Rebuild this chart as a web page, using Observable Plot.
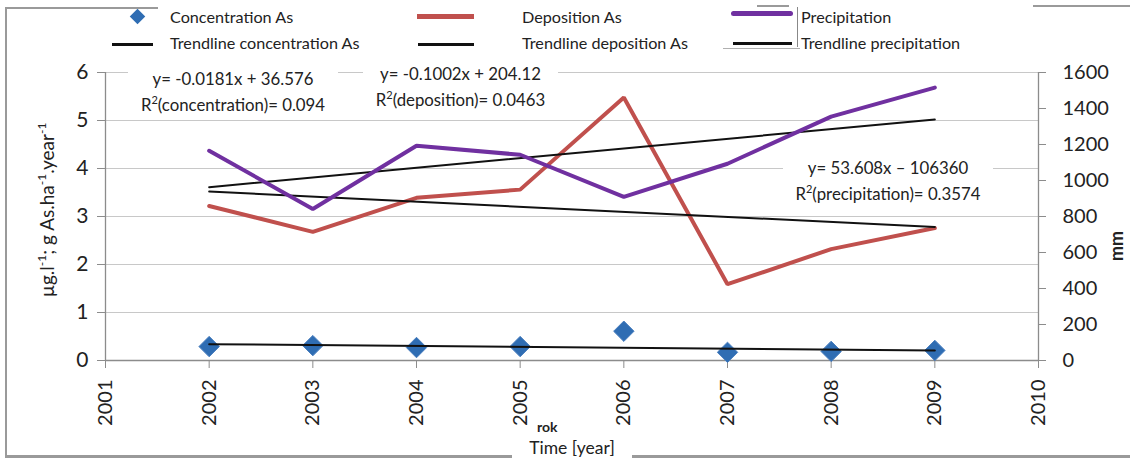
<!DOCTYPE html>
<html><head><meta charset="utf-8">
<script src="https://cdn.jsdelivr.net/npm/d3@7"></script>
<script src="https://cdn.jsdelivr.net/npm/@observablehq/plot@0.6"></script>
<style>
body{margin:0;background:#fff;font-family:Lato,"Open Sans",sans-serif;color:#222;}
#wrap{position:relative;width:1130px;height:461px;overflow:hidden;background:#fff;}
#wrap svg{position:absolute;left:0;top:0;}
.ov{position:absolute;white-space:nowrap;}
.leg{font-size:16.2px;color:#222;}
.eq{font-size:16.8px;background:#fff;text-align:center;line-height:21px;color:#222;}
.ln{position:absolute;}
</style></head><body><div id="wrap"></div>
<script>
// ---- data ----
const years = [2002, 2003, 2004, 2005, 2006, 2007, 2008, 2009];
const concentration = [0.29, 0.31, 0.27, 0.29, 0.61, 0.17, 0.19, 0.21];
const deposition = [3.22, 2.68, 3.39, 3.56, 5.48, 1.59, 2.32, 2.76];
const precipitation = [1165, 842, 1193, 1143, 909, 1093, 1355, 1516];
const trendYears = [2002, 2009];
const trendConcentration = [0.34, 0.21];
const trendDeposition = [3.52, 2.78];
const trendPrecipitation = [963, 1339];
const xTicks = [2001, 2002, 2003, 2004, 2005, 2006, 2007, 2008, 2009, 2010];
const leftTicks = [0, 1, 2, 3, 4, 5, 6];
const rightTicks = [0, 200, 400, 600, 800, 1000, 1200, 1400, 1600];

const k = 6 / 1600; // precipitation (mm) -> left axis units
const conc = years.map((x, i) => ({x, y: concentration[i]}));
const dep = years.map((x, i) => ({x, y: deposition[i]}));
const prec = years.map((x, i) => ({x, y: precipitation[i] * k}));
const tConc = trendYears.map((x, i) => ({x, y: trendConcentration[i]}));
const tDep = trendYears.map((x, i) => ({x, y: trendDeposition[i]}));
const tPrec = trendYears.map((x, i) => ({x, y: trendPrecipitation[i] * k}));

const axisGray = "#8c8c8c";
const chart = Plot.plot({
  width: 1130, height: 461,
  marginLeft: 105, marginRight: 92, marginTop: 72, marginBottom: 101,
  style: {fontFamily: "Lato, 'Open Sans', sans-serif", fontSize: "20px", color: "#222", background: "transparent"},
  x: {domain: [2001, 2010]},
  y: {domain: [0, 6]},
  marks: [
    Plot.gridY(leftTicks, {stroke: "#c8c8c8", strokeOpacity: 1, strokeWidth: 1.2}),
    Plot.ruleX([2001, 2010], {stroke: axisGray, strokeWidth: 1.3}),
    Plot.ruleY([0], {stroke: axisGray, strokeWidth: 1.3}),
    Plot.axisY(leftTicks, {anchor: "left", tickSize: 8, tickPadding: 9, stroke: axisGray, label: null, fontSize: 21}),
    Plot.axisY(rightTicks.map(v => v * k), {anchor: "right", tickSize: 7, tickPadding: 17, stroke: axisGray, label: null,
      tickFormat: d => String(Math.round(d / k)), fontSize: 20}),
    Plot.axisX(xTicks, {anchor: "bottom", tickSize: 8, tickPadding: 11, tickRotate: -90, stroke: axisGray,
      tickFormat: d => String(d), label: null, fontSize: 20}),
    Plot.line(dep, {x: "x", y: "y", stroke: "#C0504D", strokeWidth: 4, strokeLinejoin: "miter"}),
    Plot.line(tDep, {x: "x", y: "y", stroke: "#111", strokeWidth: 2}),
    Plot.line(tPrec, {x: "x", y: "y", stroke: "#111", strokeWidth: 2}),
    Plot.line(prec, {x: "x", y: "y", stroke: "#7030A0", strokeWidth: 4, strokeLinejoin: "miter"}),
    Plot.dot(conc, {x: "x", y: "y", symbol: "diamond2", r: 9.2, fill: "#2F6DB3", stroke: "#4A7FBF", strokeWidth: 1}),
    Plot.line(tConc, {x: "x", y: "y", stroke: "#111", strokeWidth: 2})
  ]
});
const wrap = document.getElementById("wrap");
wrap.appendChild(chart);

function ov(html, css, cls = "ov") {
  const d = document.createElement("div");
  d.className = cls;
  d.innerHTML = html;
  Object.assign(d.style, css);
  wrap.appendChild(d);
  return d;
}
function line(x, y, w, h, color) {
  ov("", {left: x + "px", top: y + "px", width: w + "px", height: h + "px", background: color}, "ln");
}

// legend
ov("", {left: "132px", top: "11px", width: "11px", height: "11px", background: "#2F6DB3", transform: "rotate(45deg)"});
ov("Concentration As", {left: "170px", top: "7px"}, "ov leg");
line(112, 43, 41, 2.5, "#111");
ov("Trendline concentration As", {left: "170px", top: "33px"}, "ov leg");
line(417, 14, 57, 5, "#C0504D");
ov("Deposition As", {left: "522px", top: "7px"}, "ov leg");
line(418, 43, 56, 2.5, "#111");
ov("Trendline deposition As", {left: "522px", top: "33px"}, "ov leg");
ov("", {left: "731px", top: "11px", width: "62px", height: "5px", background: "#7030A0", borderRadius: "3px"}, "ln");
ov("Precipitation", {left: "801px", top: "7px"}, "ov leg");
line(733, 42, 59, 2.5, "#111");
ov("Trendline precipitation", {left: "801px", top: "33px"}, "ov leg");

// frame artifacts
line(5, 7, 153, 1.5, "#9a9a9a");
line(5, 7, 2, 450, "#9a9a9a");
line(5, 455, 507, 2.5, "#9a9a9a");
line(632, 455, 498, 2.5, "#9a9a9a");
line(1033, 5, 97, 1.5, "#9a9a9a");
line(757, 5, 32, 1.5, "#9a9a9a");
line(723, 48, 77, 1, "#b0b0b0");
line(797, 7, 1, 40, "#888");

// equations
ov("y= -0.0181x + 36.576<br>R<sup style='font-size:11px'>2</sup>(concentration)= 0.094",
  {left: "128px", top: "68px", width: "210px"}, "ov eq");
ov("y= -0.1002x + 204.12<br>R<sup style='font-size:11px'>2</sup>(deposition)= 0.0463",
  {left: "363px", top: "63px", width: "195px"}, "ov eq");
ov("y= 53.608x – 106360<br>R<sup style='font-size:11px'>2</sup>(precipitation)= 0.3574",
  {left: "783px", top: "157px", width: "210px"}, "ov eq");

// axis titles
ov("µg.l<sup style='font-size:12px'>-1</sup>; g As.ha<sup style='font-size:12px'>-1</sup>.year<sup style='font-size:12px'>-1</sup>",
  {left: "46px", top: "210px", fontSize: "19px", transform: "translate(-50%,-50%) rotate(-90deg)"});
ov("<b>mm</b>", {left: "1116px", top: "246px", fontSize: "18px", transform: "translate(-50%,-50%) rotate(-90deg)"});
ov("<b>rok</b>", {left: "537px", top: "420px", fontSize: "14px", lineHeight: "14px"});
ov("Time [year]", {left: "514px", top: "435px", width: "116px", height: "26px", background: "#fff", fontSize: "17.5px",
  textAlign: "center", lineHeight: "26px"});
</script>
</body></html>
